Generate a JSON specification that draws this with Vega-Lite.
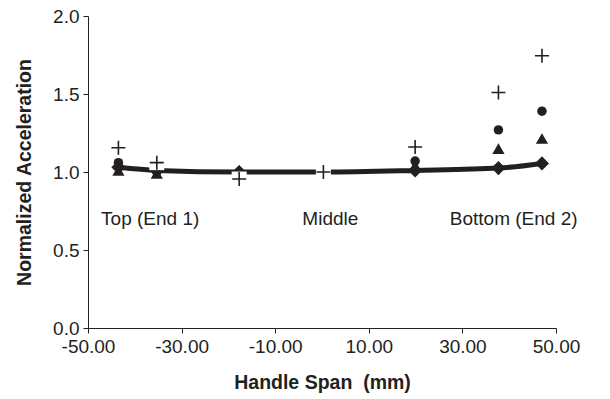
{
  "$schema": "https://vega.github.io/schema/vega-lite/v6.json",
  "width": 468,
  "height": 312,
  "autosize": "none",
  "padding": {"left": 88, "top": 16, "right": 54, "bottom": 71},
  "background": "white",
  "config": {
    "view": {"stroke": null},
    "font": "Liberation Sans",
    "axis": {
      "domainColor": "#231f20",
      "tickColor": "#231f20",
      "labelColor": "#231f20",
      "titleColor": "#231f20",
      "labelFont": "Liberation Sans",
      "titleFont": "Liberation Sans",
      "labelFontSize": 19,
      "titleFontSize": 19.5,
      "titleFontWeight": "bold",
      "tickSize": 5,
      "grid": false,
      "domainWidth": 1,
      "tickWidth": 1,
      "labelFlush": false,
      "labelOverlap": false
    }
  },
  "datasets": {
    "pts": [
      {"series": "diamond", "x": -43.5, "y": 1.03},
      {"series": "diamond", "x": -35.3, "y": 1.01},
      {"series": "diamond", "x": -17.7, "y": 1.0},
      {"series": "diamond", "x": 0.3, "y": 1.0},
      {"series": "diamond", "x": 19.9, "y": 1.01},
      {"series": "diamond", "x": 37.7, "y": 1.025},
      {"series": "diamond", "x": 47.0, "y": 1.055},
      {"series": "triangle", "x": -43.5, "y": 1.01},
      {"series": "triangle", "x": -35.3, "y": 0.99},
      {"series": "triangle", "x": -17.7, "y": 1.01},
      {"series": "triangle", "x": 0.3, "y": 1.0},
      {"series": "triangle", "x": 19.9, "y": 1.04},
      {"series": "triangle", "x": 37.7, "y": 1.15},
      {"series": "triangle", "x": 47.0, "y": 1.215},
      {"series": "circle", "x": -43.5, "y": 1.06},
      {"series": "circle", "x": -35.3, "y": 1.0},
      {"series": "circle", "x": -17.7, "y": 1.0},
      {"series": "circle", "x": 0.3, "y": 1.0},
      {"series": "circle", "x": 19.9, "y": 1.07},
      {"series": "circle", "x": 37.7, "y": 1.27},
      {"series": "circle", "x": 47.0, "y": 1.39},
      {"series": "plus", "x": -43.5, "y": 1.155},
      {"series": "plus", "x": -35.3, "y": 1.06},
      {"series": "plus", "x": -17.7, "y": 0.955},
      {"series": "plus", "x": 0.3, "y": 1.0},
      {"series": "plus", "x": 19.9, "y": 1.16},
      {"series": "plus", "x": 37.7, "y": 1.51},
      {"series": "plus", "x": 47.0, "y": 1.745}
    ],
    "notes": [
      {"label": "Top (End 1)", "x": -47.2, "y": 0.7},
      {"label": "Middle", "x": -4.2, "y": 0.7},
      {"label": "Bottom (End 2)", "x": 27.3, "y": 0.7}
    ]
  },
  "encoding": {
    "x": {
      "field": "x", "type": "quantitative",
      "scale": {"domain": [-50, 50], "nice": false, "zero": false},
      "axis": {"values": [-50, -30, -10, 10, 30, 50], "labelExpr": "replace(format(datum.value, '.2f'), '\u2212', '-')", "title": "Handle Span\u00a0 (mm)", "labelPadding": 4, "titlePadding": 17}
    },
    "y": {
      "field": "y", "type": "quantitative",
      "scale": {"domain": [0, 2], "nice": false},
      "axis": {"values": [0, 0.5, 1, 1.5, 2], "format": ".1f", "title": "Normalized Acceleration", "labelPadding": 4, "titlePadding": 18}
    }
  },
  "layer": [
    {
      "data": {"name": "pts"},
      "transform": [{"filter": "datum.series === 'diamond'"}],
      "mark": {"type": "line", "color": "#231f20", "strokeWidth": 5, "interpolate": "monotone"}
    },
    {
      "data": {"name": "pts"},
      "transform": [{"filter": "datum.series === 'diamond'"}],
      "mark": {"type": "point", "shape": "diamond", "filled": true, "color": "#231f20", "size": 200, "opacity": 1}
    },
    {
      "data": {"name": "pts"},
      "transform": [{"filter": "datum.series === 'triangle'"}],
      "mark": {"type": "point", "shape": "triangle-up", "filled": true, "color": "#231f20", "size": 150, "opacity": 1}
    },
    {
      "data": {"name": "pts"},
      "transform": [{"filter": "datum.series === 'circle'"}],
      "mark": {"type": "point", "shape": "circle", "filled": true, "color": "#231f20", "size": 90, "opacity": 1}
    },
    {
      "data": {"name": "pts"},
      "transform": [{"filter": "datum.series === 'plus'"}],
      "mark": {"type": "point", "shape": "square", "filled": true, "color": "white", "size": 225, "opacity": 1}
    },
    {
      "data": {"name": "pts"},
      "transform": [{"filter": "datum.series === 'plus'"}],
      "mark": {"type": "point", "shape": "M-1,0H1M0,-1V1", "filled": false, "stroke": "#231f20", "strokeWidth": 1.6, "size": 196, "opacity": 1}
    },
    {
      "data": {"name": "notes"},
      "mark": {"type": "text", "align": "left", "baseline": "middle", "fontSize": 19, "color": "#231f20", "font": "Liberation Sans"},
      "encoding": {"text": {"field": "label"}}
    }
  ]
}
